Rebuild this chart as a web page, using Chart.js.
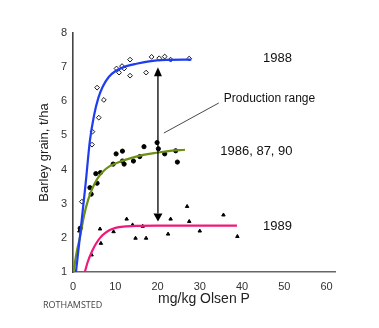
<!DOCTYPE html>
<html><head><meta charset="utf-8">
<script src="https://cdn.jsdelivr.net/npm/chart.js@4.4.1/dist/chart.umd.min.js"></script>
<style>html,body{margin:0;padding:0;background:#fff}#wrap{width:379px;height:328px}</style>
</head><body><div id="wrap"><canvas id="c" width="379" height="328"></canvas></div>
<script>
// Observed points
const pts1988 = [[2.1,3.06],[4.5,4.73],[4.6,5.11],[6.1,5.52],[5.7,6.40],[7.3,6.04],[10.3,6.96],[10.9,6.84],[11.6,7.03],[12.1,6.96],[13.5,7.22],[13.5,6.75],[17.3,6.84],[18.6,7.30],[20.4,7.26],[21.7,7.31],[23.1,7.22],[27.5,7.25]];
const pts1986 = [[1.7,2.28],[4.0,3.47],[4.3,3.28],[5.4,3.88],[5.7,3.60],[6.5,3.91],[9.5,4.16],[10.2,4.46],[11.7,4.54],[11.7,4.25],[12.1,4.16],[14.3,4.25],[15.8,4.38],[16.8,4.67],[19.9,4.79],[20.2,4.61],[21.7,4.46],[24.3,4.55],[24.7,4.22]];
const pts1989 = [[1.5,2.2],[1.9,2.33],[4.4,1.50],[6.4,2.26],[6.6,1.84],[9.6,2.18],[12.7,2.55],[14.1,2.38],[14.8,1.99],[16.5,2.34],[17.3,1.99],[22.5,2.11],[23.1,2.55],[27.0,2.92],[27.5,2.48],[30.0,2.20],[35.6,2.67],[38.9,2.04]];
// Fitted curves
const fit1988 = [[0.7,1.0],[1.7,2.1],[3.0,3.6],[4.0,4.85],[5.0,5.6],[6.0,6.1],[7.0,6.42],[8.5,6.72],[10,6.88],[12,7.0],[15,7.1],[18,7.17],[22,7.21],[28,7.22]];
const fit1986 = [[0.1,1.0],[0.9,1.6],[1.7,2.05],[2.6,2.65],[3.6,3.12],[4.5,3.42],[5.6,3.7],[7.0,3.93],[8.7,4.1],[10.5,4.2],[12.7,4.3],[16.6,4.43],[20.2,4.5],[23,4.55],[26.5,4.58]];
const fit1989 = [[2.8,1.0],[3.5,1.3],[4.4,1.58],[5.4,1.82],[6.4,2.0],[7.5,2.13],[8.7,2.23],[10.3,2.3],[12,2.33],[15,2.35],[20,2.36],[30,2.36],[38.8,2.36]];
const xTicks = [0,10,20,30,40,50,60];
const yTicks = [1,2,3,4,5,6,7,8];
const seriesLabels = ['1988','1986, 87, 90','1989'];
const labelAt = [[48.4,7.27],[43.4,4.52],[48.4,2.33]];
const rangeArrow = {x:20.1, top:7.0, bottom:2.48};
const rangeText = 'Production range';
const rangeTextAt = [46.5,6.07];
const leader = [[21.5,5.07],[34.5,5.95]];

const toXY = a => a.map(p => ({x:p[0], y:p[1]}));
const FONT = "'Liberation Sans', Arial, sans-serif";

const annot = {
  id:'annot',
  afterDatasetsDraw(chart){
    const ctx = chart.ctx, xs = chart.scales.x, ys = chart.scales.y;
    ctx.save();
    const ax = xs.getPixelForValue(rangeArrow.x);
    const at = ys.getPixelForValue(rangeArrow.top);
    const ab = ys.getPixelForValue(rangeArrow.bottom);
    ctx.strokeStyle = '#000'; ctx.fillStyle = '#000'; ctx.lineWidth = 1.3;
    ctx.beginPath(); ctx.moveTo(ax, at+8); ctx.lineTo(ax, ab-8); ctx.stroke();
    ctx.beginPath(); ctx.moveTo(ax, at); ctx.lineTo(ax-4, at+9); ctx.lineTo(ax+4, at+9); ctx.closePath(); ctx.fill();
    ctx.beginPath(); ctx.moveTo(ax, ab); ctx.lineTo(ax-4.5, ab-8); ctx.lineTo(ax+4.5, ab-8); ctx.closePath(); ctx.fill();
    ctx.strokeStyle = '#333'; ctx.lineWidth = 0.9;
    ctx.beginPath();
    ctx.moveTo(xs.getPixelForValue(leader[0][0]), ys.getPixelForValue(leader[0][1]));
    ctx.lineTo(xs.getPixelForValue(leader[1][0]), ys.getPixelForValue(leader[1][1]));
    ctx.stroke();
    ctx.fillStyle = '#111'; ctx.textAlign = 'center'; ctx.textBaseline = 'middle';
    ctx.font = '13px ' + FONT;
    seriesLabels.forEach((t,i) => ctx.fillText(t, xs.getPixelForValue(labelAt[i][0]), ys.getPixelForValue(labelAt[i][1])));
    ctx.font = '12px ' + FONT;
    ctx.fillText(rangeText, xs.getPixelForValue(rangeTextAt[0]), ys.getPixelForValue(rangeTextAt[1]));
    ctx.fillStyle = '#444'; ctx.textAlign = 'left';
    ctx.font = "9px 'Open Sans', sans-serif";
    ctx.fillText('ROTHAMSTED', 43, 305);
    ctx.restore();
  }
};

const lineDs = (data, color) => ({type:'scatter', data:toXY(data), showLine:true, borderColor:color, borderWidth:2.2, pointRadius:0, cubicInterpolationMode:'monotone', fill:false});
const ptDs = (data, style, r, fill, bw) => ({type:'scatter', data:toXY(data), showLine:false, pointStyle:style, pointRadius:r, pointBackgroundColor:fill, pointBorderColor:'#000', pointBorderWidth:bw, pointHoverRadius:r});

new Chart(document.getElementById('c'), {
  type:'scatter',
  data:{datasets:[
    lineDs(fit1988,'#1e3cf0'),
    lineDs(fit1986,'#6b9014'),
    lineDs(fit1989,'#f0187a'),
    ptDs(pts1988,'rectRot',2.4,'#fff',0.9),
    ptDs(pts1986,'circle',2.1,'#000',1),
    ptDs(pts1989,'triangle',2.0,'#000',1)
  ]},
  options:{
    responsive:false, animation:false, devicePixelRatio:1,
    layout:{padding:{top:33,right:44,left:0,bottom:0}},
    plugins:{legend:{display:false}, tooltip:{enabled:false}},
    scales:{
      x:{type:'linear', min:0, max:62,
        afterBuildTicks: s => { s.ticks = xTicks.map(v=>({value:v})); },
        afterFit: s => { s.height = 56; },
        grid:{display:false, drawTicks:false},
        border:{display:true, color:'#666', width:1.6},
        ticks:{padding:8, color:'#333', font:{family:FONT, size:11}},
        title:{display:true, text:'mg/kg Olsen P', color:'#222', font:{family:FONT, size:14}, padding:{top:0,bottom:20}}
      },
      y:{type:'linear', min:1, max:8,
        afterBuildTicks: s => { s.ticks = yTicks.map(v=>({value:v})); },
        afterFit: s => { s.width = 73; },
        grid:{display:false, drawTicks:false},
        border:{display:true, color:'#444', width:1.6},
        ticks:{padding:6, color:'#333', font:{family:FONT, size:11}},
        title:{display:true, text:'Barley grain, t/ha', color:'#222', font:{family:FONT, size:13}, padding:{top:37,bottom:0}}
      }
    }
  },
  plugins:[annot]
});
</script></body></html>
